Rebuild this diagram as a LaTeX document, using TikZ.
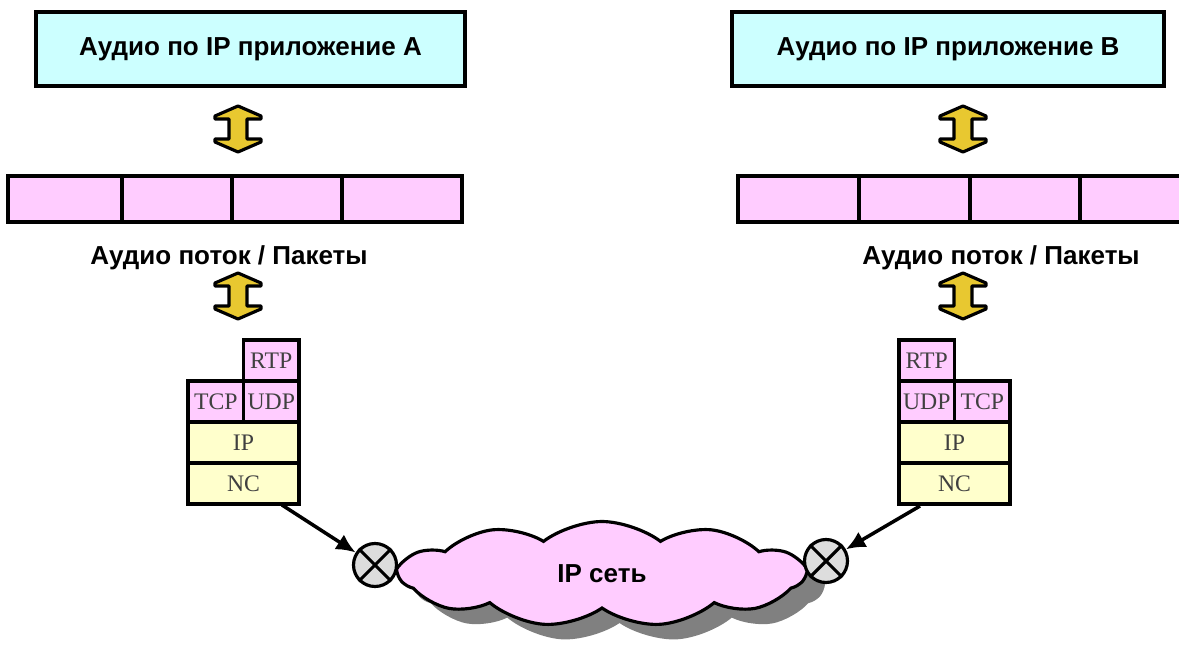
\documentclass[tikz,border=0pt]{standalone}
\usepackage{fontspec}
\setmainfont{Liberation Serif}
\newfontfamily\labelfont{Liberation Sans}
\usepackage{xcolor}
\definecolor{appcyan}{HTML}{CCFFFF}
\definecolor{pktpink}{HTML}{FFCCFF}
\definecolor{layeryellow}{HTML}{FFFFCC}
\definecolor{arrowgold}{HTML}{E8C830}
\definecolor{crossgray}{HTML}{DDDDDD}
\definecolor{shadowgray}{HTML}{808080}
\usetikzlibrary{arrows.meta,positioning,shapes.symbols,shadows}

\begin{document}
\begin{tikzpicture}[
  x=0.02cm,
  y=-0.02cm,
  appbox/.style={draw,line width=1.8pt,fill=appcyan,minimum height=1.48cm,
    font=\labelfont\fontsize{14.8}{17}\selectfont\bfseries},
  pktbar/.style={draw,line width=2.4pt,fill=pktpink,minimum height=0.92cm},
  divider/.style={line width=1.8pt},
  caption/.style={font=\labelfont\fontsize{14.8}{17}\selectfont\bfseries},
  dblarrow/.style={fill=arrowgold,draw=black,line width=1.8pt,line join=round},
  layer/.style={draw,line width=1.8pt,outer sep=0pt,inner sep=0pt,
    minimum height=0.82cm,text=black!75,font=\fontsize{13.5}{15}\selectfont},
  upper/.style={layer,fill=pktpink,minimum width=1.11cm},
  lower/.style={layer,fill=layeryellow,minimum width=2.22cm},
  crossnode/.style={circle,draw,line width=1.8pt,fill=crossgray,minimum size=0.86cm,inner sep=0pt},
  link/.style={line width=2pt,-{Latex[length=11pt,width=10pt]}},
  ipcloud/.style={cloud,draw,line width=1.8pt,fill=pktpink,cloud puffs=11,cloud puff arc=75,
    aspect=3.8,minimum width=8.1cm,minimum height=2.1cm,inner sep=0pt,
    font=\labelfont\fontsize{14.8}{17}\selectfont\bfseries,
    drop shadow={shadow xshift=0.35cm,shadow yshift=-0.3cm,fill=shadowgray,opacity=1}}
]
\useasboundingbox (0,0) rectangle (1179,648);

% Applications
\node[appbox,minimum width=8.58cm] (appA) at (250.5,49) {Аудио по IP приложение A};
\node[appbox,minimum width=8.64cm] (appB) at (948,49) {Аудио по IP приложение B};

% Packet streams
\node[pktbar,minimum width=9.08cm] (barA) at (235,199) {};
\foreach \x in {122,232,342}
  \draw[divider] (\x,176) -- (\x,222);
\node[pktbar,minimum width=9.24cm] (barB) at (969,199) {};
\foreach \x in {859,970,1080}
  \draw[divider] (\x,176) -- (\x,222);

\node[caption] (capA) at (229,258) {Аудио поток / Пакеты};
\node[caption] (capB) at (1001,258) {Аудио поток / Пакеты};

% Double arrows
\foreach \cx/\cy in {238/129,238/296,963/129,963/296}
  \draw[dblarrow,shift={(\cx,\cy)}]
    (0,-23) -- (23,-13) -- (23,-10) -- (9,-10) -- (9,10) -- (23,10) -- (23,13)
    -- (0,23) -- (-23,13) -- (-23,10) -- (-9,10) -- (-9,-10) -- (-23,-10)
    -- (-23,-13) -- cycle;

% Protocol stack A
\node[lower] (ncA) at (243.5,483.5) {NC};
\node[lower,above=0pt of ncA] (ipA) {IP};
\node[upper,above right=0pt and 0pt of ipA.north west] (tcpA) {TCP};
\node[upper,right=0pt of tcpA] (udpA) {UDP};
\node[upper,above=0pt of udpA] (rtpA) {RTP};

% Protocol stack B
\node[lower] (ncB) at (954.5,483.5) {NC};
\node[lower,above=0pt of ncB] (ipB) {IP};
\node[upper,above right=0pt and 0pt of ipB.north west] (udpB) {UDP};
\node[upper,right=0pt of udpB] (tcpB) {TCP};
\node[upper,above=0pt of udpB] (rtpB) {RTP};

% IP network
\node[ipcloud] (net) at (602,574) {IP сеть};

% Access points
\node[crossnode] (xA) at (375,565) {};
\node[crossnode] (xB) at (826,561) {};
\foreach \n in {xA,xB} {
  \draw[line width=1.8pt] (\n.north west) -- (\n.south east);
  \draw[line width=1.8pt] (\n.north east) -- (\n.south west);
}

% Links
\coordinate (outA) at (282,505);
\coordinate (outB) at (920,506);
\draw[link] (outA) -- (xA);
\draw[link] (outB) -- (xB);

\end{tikzpicture}
\end{document}
